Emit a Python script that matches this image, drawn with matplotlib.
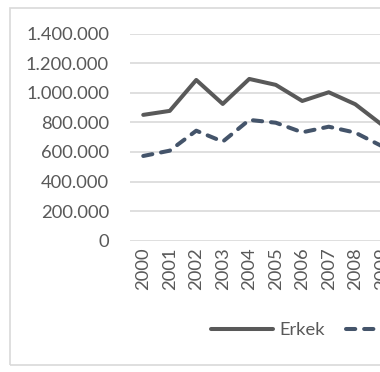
import matplotlib.pyplot as plt
from matplotlib.patches import Rectangle
from matplotlib.ticker import FuncFormatter

# veriler (grafikten okunan yaklaşık değerler)
years = ['2000', '2001', '2002', '2003', '2004', '2005', '2006', '2007', '2008', '2009']
erkek = [851000, 878000, 1087000, 925000, 1094000, 1054000, 945000, 1004000, 923000, 785000]
kadin = [573000, 609000, 744000, 670000, 817000, 798000, 733000, 771000, 731000, 640000]
y_ticks = [0, 200000, 400000, 600000, 800000, 1000000, 1200000, 1400000]

plt.rcParams['font.family'] = ['Lato', 'DejaVu Sans']
text_color = '#595959'

fig = plt.figure(figsize=(3.8, 3.72), dpi=100)

# dış çerçeve
fig.patches.append(Rectangle((10 / 380, 7 / 372), 1.2, 357 / 372, transform=fig.transFigure,
                             fill=False, edgecolor='#d9d9d9', linewidth=1.2))

ax = fig.add_axes([130 / 380, 131.3 / 372, 265 / 380, 207 / 372])

x = list(range(len(years)))
ax.plot(x, erkek, color='#595959', linewidth=2.9, solid_capstyle='round',
        solid_joinstyle='round', label='Erkek')
ax.plot(x, kadin, color='#44546a', linewidth=2.9, dashes=(2.3, 2.2),
        dash_capstyle='round', dash_joinstyle='round', label='Kadın')

ax.set_xlim(-0.5, len(years) - 0.5)
ax.set_ylim(0, 1400000)
ax.set_yticks(y_ticks)
ax.yaxis.set_major_formatter(FuncFormatter(lambda v, p: '{:,.0f}'.format(v).replace(',', '.')))
ax.set_xticks(x)
ax.set_xticklabels(years, rotation=90)

ax.grid(axis='y', color='#d9d9d9', linewidth=1.2)
ax.set_axisbelow(True)
for s in ax.spines.values():
    s.set_visible(False)
ax.tick_params(axis='both', length=0, labelsize=13.2, colors=text_color)
ax.tick_params(axis='y', pad=15)
ax.tick_params(axis='x', pad=5)

leg = fig.legend(loc='center left', bbox_to_anchor=(211 / 380, 42 / 372), ncol=2,
                 frameon=False, fontsize=13.2, handlelength=3.4, handletextpad=0.35,
                 columnspacing=1.1, borderpad=0, borderaxespad=0)
for t in leg.get_texts():
    t.set_color(text_color)

fig.savefig('out.png', dpi=100)
